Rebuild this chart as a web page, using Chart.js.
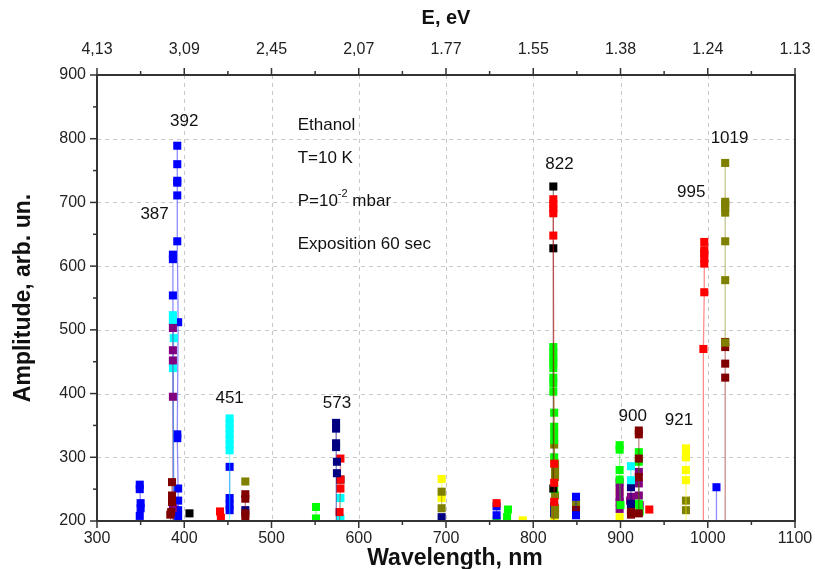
<!DOCTYPE html>
<html>
<head>
<meta charset="utf-8">
<script src="https://cdn.jsdelivr.net/npm/chart.js@4/dist/chart.umd.min.js"></script>
<style>
html,body{margin:0;padding:0;background:#fff;}
#wrap{width:815px;height:569px;position:relative;}
</style>
</head>
<body>
<div id="wrap"><canvas id="c" width="815" height="569"></canvas></div>
<script>
// ---- axis ticks ----
const wavelengthTicks = [300, 400, 500, 600, 700, 800, 900, 1000, 1100];
const energyLabels = ['4,13', '3,09', '2,45', '2,07', '1.77', '1.55', '1.38', '1.24', '1.13'];
const amplitudeTicks = [200, 300, 400, 500, 600, 700, 800, 900];

// ---- series: [wavelength nm, amplitude] ----
const blue350 = [[349,257],[349,250],[350,228],[350,220],[349,208]];
const maroon386 = [[386,261],[386,240],[386,230],[385,214],[384,210],[385,190]];
const purple387 = [[387,503],[387,468],[387,452],[387,395],[387,220],[387,190]];
const cyan387 = [[387,523],[387,515],[388,487],[387,440],[388,190]];
const blue387 = [[387,618],[387,611],[387,554],[388,190]];
const blue392 = [[392,789],[392,760],[392,734],[392,731],[392,711],[392,639],[393,512],[392,336],[392,330],[393,251],[393,232],[393,217],[393,205]];
const magenta388 = [[389,218]];
const red391 = [[392,203]];
const black406 = [[406,212]];
const red441 = [[441,215],[442,205]];
const cyan452 = [[452,361],[452,353],[452,345],[452,337],[452,328],[452,320],[452,311],[452,190]];
const blue452 = [[452,285],[452,236],[452,226],[452,217]];
const olive470 = [[470,262]];
const maroon470 = [[470,242],[470,235],[470,212],[470,206]];
const navy470 = [[470,217]];
const green551 = [[551,222],[551,204]];
const navy574 = [[574,354],[574,345],[574,322],[574,316],[575,293],[575,275],[574,190]];
const red579 = [[579,298],[579,265],[579,251],[578,214],[578,190]];
const black579 = [[579,265]];
const cyan579 = [[579,236],[579,204]];
const olive695 = [[695,246],[695,220]];
const yellow695 = [[695,266],[695,236]];
const navy695 = [[695,206]];
const red758 = [[758,228]];
const blue758 = [[758,223],[758,209]];
const green758 = [[758,201]];
const green771 = [[771,218],[770,206]];
const yellow788 = [[788,201]];
const red823 = [[823,705],[823,697],[823,690],[823,683],[823,648],[824,290],[824,260],[824,230],[823,190]];
const black823 = [[823,725],[823,628],[823,251]];
const green823 = [[823,473],[823,465],[823,455],[823,450],[823,440],[823,425],[823,416],[823,403],[824,370],[824,348],[824,338],[824,327],[824,300],[824,250],[824,190]];
const olive824 = [[824,320],[825,290],[825,280],[825,269],[825,240],[825,220],[825,210]];
const navy824 = [[824,224],[824,212]];
const yellow824 = [[824,203]];
const blue849 = [[849,238],[849,209]];
const olive849 = [[849,230]];
const maroon849 = [[849,219]];
const green899 = [[899,319],[899,312],[899,280],[899,265],[900,225]];
const purple899 = [[899,261],[899,250],[899,238],[899,230],[899,219]];
const yellow899 = [[899,245],[899,206]];
const cyan912 = [[912,286],[912,264]];
const navy912 = [[912,253],[912,227]];
const purple912 = [[912,238],[911,232]];
const maroon912 = [[912,217],[912,210]];
const maroon921 = [[921,342],[921,336],[921,298],[921,269],[921,212]];
const green921 = [[921,308],[921,293],[921,227],[922,215]];
const purple921 = [[921,277],[921,259],[921,240],[922,225]];
const red933 = [[933,218]];
const yellow975 = [[975,314],[975,307],[975,300],[975,280],[975,264],[975,190]];
const olive975 = [[975,232],[975,217]];
const red996 = [[996,638],[996,625],[996,620],[996,612],[996,604],[996,559],[995,470],[995,190]];
const blue1010 = [[1010,253],[1010,190]];
const olive1020 = [[1020,762],[1020,701],[1020,697],[1020,692],[1020,684],[1020,639],[1020,578],[1020,480]];
const maroon1020 = [[1020,481],[1020,473],[1020,447],[1020,425],[1020,190]];

// ---- peak labels: [text, wavelength, amplitude] ----
const peakLabels = [['392',400,828],['387',366,682],['451',452,392],['573',575,384],['822',830,760],['995',981,716],['1019',1025,800],['900',914,364],['921',967,358]];

const C = {blue:'#0000ff',cyan:'#00ffff',purple:'#800080',maroon:'#800000',red:'#ff0000',green:'#00ff00',olive:'#808000',navy:'#000080',yellow:'#ffff00',black:'#000000',magenta:'#ff00ff'};
const seriesList = [
 [blue350,'blue'],[maroon386,'maroon'],[purple387,'purple'],[cyan387,'cyan'],[blue387,'blue'],[blue392,'blue'],
 [magenta388,'magenta'],[red391,'red'],[black406,'black'],[red441,'red'],[cyan452,'cyan'],[blue452,'blue'],
 [olive470,'olive'],[maroon470,'maroon'],[navy470,'navy'],[green551,'green'],[navy574,'navy'],[red579,'red'],
 [black579,'black'],[cyan579,'cyan'],[olive695,'olive'],[yellow695,'yellow'],[navy695,'navy'],[red758,'red'],
 [blue758,'blue'],[green758,'green'],[green771,'green'],[yellow788,'yellow'],[red823,'red'],[black823,'black'],
 [green823,'green'],[olive824,'olive'],[navy824,'navy'],[yellow824,'yellow'],[blue849,'blue'],[olive849,'olive'],
 [maroon849,'maroon'],[green899,'green'],[purple899,'purple'],[yellow899,'yellow'],[cyan912,'cyan'],[navy912,'navy'],
 [purple912,'purple'],[maroon912,'maroon'],[maroon921,'maroon'],[green921,'green'],[purple921,'purple'],[red933,'red'],
 [yellow975,'yellow'],[olive975,'olive'],[red996,'red'],[blue1010,'blue'],[olive1020,'olive'],[maroon1020,'maroon']
];

function hexA(h, a){const r=parseInt(h.substr(1,2),16),g=parseInt(h.substr(3,2),16),b=parseInt(h.substr(5,2),16);return `rgba(${r},${g},${b},${a})`;}

const datasets = seriesList.map(([arr, cname]) => ({
  data: arr.map(p => ({x: p[0], y: p[1]})),
  showLine: true,
  borderColor: hexA(C[cname], 0.45),
  borderWidth: 1.3,
  pointStyle: 'rect',
  pointRadius: 5.7,
  pointBorderWidth: 0,
  pointBackgroundColor: C[cname],
  fill: false
}));

const sans = "'Liberation Sans', Arial, sans-serif";

const framePlugin = {
  id: 'frame',
  beforeDatasetsDraw(chart) {
    const ctx = chart.ctx, a = chart.chartArea, xs = chart.scales.x, ys = chart.scales.y;
    ctx.save();
    ctx.strokeStyle = '#c8c8c8'; ctx.lineWidth = 1; ctx.setLineDash([4,4]);
    wavelengthTicks.slice(1,-1).forEach(v => { const px = Math.round(xs.getPixelForValue(v))+0.5; ctx.beginPath(); ctx.moveTo(px,a.top); ctx.lineTo(px,a.bottom); ctx.stroke(); });
    amplitudeTicks.slice(1,-1).forEach(v => { const py = Math.round(ys.getPixelForValue(v))+0.5; ctx.beginPath(); ctx.moveTo(a.left,py); ctx.lineTo(a.right,py); ctx.stroke(); });
    ctx.restore();
  },
  afterDraw(chart) {
    const ctx = chart.ctx, a = chart.chartArea, xs = chart.scales.x, ys = chart.scales.y;
    ctx.save();
    ctx.strokeStyle = '#333'; ctx.lineWidth = 2; ctx.setLineDash([]);
    ctx.strokeRect(a.left, a.top, a.right - a.left, a.bottom - a.top);
    ctx.lineWidth = 1.5;
    for (let v = 300; v <= 1100; v += 50) {
      const px = xs.getPixelForValue(v); const len = (v % 100 === 0) ? 7 : 4;
      ctx.beginPath(); ctx.moveTo(px, a.bottom); ctx.lineTo(px, a.bottom + len); ctx.stroke();
      ctx.beginPath(); ctx.moveTo(px, a.top); ctx.lineTo(px, a.top - len); ctx.stroke();
    }
    for (let v = 200; v <= 900; v += 50) {
      const py = ys.getPixelForValue(v); const len = (v % 100 === 0) ? 7 : 4;
      ctx.beginPath(); ctx.moveTo(a.left, py); ctx.lineTo(a.left - len, py); ctx.stroke();
    }
    // x axis title
    ctx.fillStyle = '#111'; ctx.textAlign = 'center'; ctx.textBaseline = 'middle';
    ctx.font = 'bold 23px ' + sans;
    ctx.fillText('Wavelength, nm', (a.left + a.right) / 2 + 9, 559);
    // peak labels
    ctx.font = '17px ' + sans;
    peakLabels.forEach(([t, x, y]) => ctx.fillText(t, xs.getPixelForValue(x), ys.getPixelForValue(y)));
    // text block
    const tx = xs.getPixelForValue(530);
    ctx.textAlign = 'left';
    ctx.fillText('Ethanol', tx, 125);
    ctx.fillText('T=10 K', tx, 158);
    const p1 = 'P=10'; ctx.fillText(p1, tx, 201);
    let w = ctx.measureText(p1).width;
    ctx.font = '11px ' + sans; ctx.fillText('-2', tx + w, 194);
    let w2 = ctx.measureText('-2').width;
    ctx.font = '17px ' + sans; ctx.fillText(' mbar', tx + w + w2, 201);
    ctx.fillText('Exposition 60 sec', tx, 244);
    ctx.restore();
  }
};

const noPad = s => { s.paddingLeft = 0; s.paddingRight = 0; };

new Chart(document.getElementById('c'), {
  type: 'scatter',
  data: { datasets },
  options: {
    responsive: false, animation: false,
    layout: { padding: { left: 0, right: 20, top: 0, bottom: 0 } },
    plugins: { legend: { display: false }, tooltip: { enabled: false } },
    scales: {
      x: {
        type: 'linear', position: 'bottom', min: 300, max: 1100,
        grid: { display: false, drawTicks: false }, border: { display: false },
        afterBuildTicks: s => { s.ticks = wavelengthTicks.map(v => ({value: v})); },
        ticks: { padding: 8, color: '#222', font: { family: sans, size: 16 }, maxRotation: 0, callback: v => String(v) },
        title: { display: false },
        afterFit: s => { s.height = 48; noPad(s); }
      },
      x2: {
        type: 'linear', position: 'top', min: 300, max: 1100,
        grid: { display: false, drawTicks: false }, border: { display: false },
        afterBuildTicks: s => { s.ticks = wavelengthTicks.map(v => ({value: v})); },
        ticks: { padding: 16, color: '#222', font: { family: sans, size: 16 }, maxRotation: 0,
          callback: (v) => energyLabels[wavelengthTicks.indexOf(v)] },
        title: { display: true, text: 'E, eV', color: '#111', font: { family: sans, size: 20, weight: 'bold' }, padding: { top: 6, bottom: 0 } },
        afterFit: s => { s.height = 75; noPad(s); }
      },
      y: {
        type: 'linear', min: 200, max: 900,
        grid: { display: false, drawTicks: false }, border: { display: false },
        afterBuildTicks: s => { s.ticks = amplitudeTicks.map(v => ({value: v})); },
        ticks: { padding: 11, color: '#222', font: { family: sans, size: 16 }, callback: v => String(v) },
        title: { display: true, text: 'Amplitude, arb. un.', color: '#111', font: { family: sans, size: 23, weight: 'bold' }, padding: { top: 10, bottom: 4 } },
        afterFit: s => { s.width = 97; s.paddingTop = 0; s.paddingBottom = 0; }
      }
    }
  },
  plugins: [framePlugin]
});
</script>
</body>
</html>
